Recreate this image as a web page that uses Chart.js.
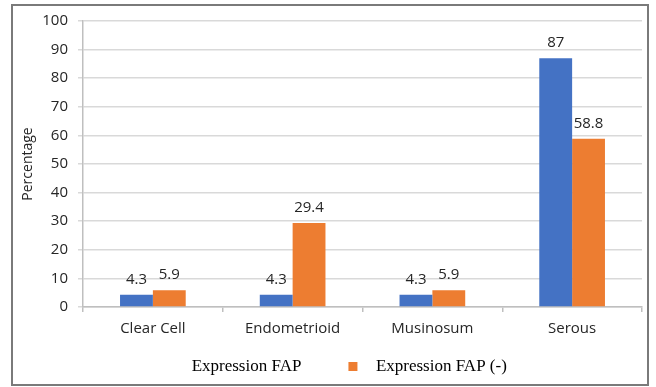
<!DOCTYPE html>
<html>
<head>
<meta charset="utf-8">
<script src="https://cdn.jsdelivr.net/npm/chart.js@4.4.0/dist/chart.umd.min.js"></script>
<style>
  html, body { margin: 0; padding: 0; background: #fff; }
  #wrap { position: relative; width: 656px; height: 387px; }
  #frame { position: absolute; left: 11px; top: 4px; width: 638px; height: 382px; border: 2px solid #7a7a7a; box-sizing: border-box; pointer-events: none; }
  canvas { display: block; }
</style>
</head>
<body>
<div id="wrap">
  <canvas id="chart" width="656" height="387"></canvas>
  <div id="frame"></div>
</div>
<script>
// Data
const categories = ['Clear Cell', 'Endometrioid', 'Musinosum', 'Serous'];
const fapPositive = [4.3, 4.3, 4.3, 87];
const fapNegative = [5.9, 29.4, 5.9, 58.8];
const seriesNames = ['Expression FAP', 'Expression FAP (-)'];
const yTicks = { min: 0, max: 100, step: 10 };

// Legend swatches: first item shows no box in the original, second an orange square.
// The canvas is wider than the square so the text sits further right of it.
function makeSwatch(color) {
    const c = document.createElement('canvas');
    c.width = 48;
    c.height = 9;
    const g = c.getContext('2d');
    if (color) {
        g.fillStyle = color;
        g.fillRect(29, 0, 9, 9);
    }
    return c;
}
const legendSwatches = [makeSwatch(null), makeSwatch('#ED7D31')];

// Value labels above each bar
const barLabels = {
    id: 'barLabels',
    afterDatasetsDraw(chart) {
        const ctx = chart.ctx;
        ctx.save();
        ctx.font = '15px "Open Sans"';
        ctx.fillStyle = '#262626';
        ctx.textAlign = 'center';
        ctx.textBaseline = 'alphabetic';
        chart.data.datasets.forEach((ds, i) => {
            chart.getDatasetMeta(i).data.forEach((bar, j) => {
                ctx.fillText(String(ds.data[j]), bar.x, bar.y - 11);
            });
        });
        ctx.restore();
    }
};

Chart.defaults.font.family = '"Open Sans", sans-serif';
Chart.defaults.color = '#404040';

const ctx = document.getElementById('chart').getContext('2d');
new Chart(ctx, {
    type: 'bar',
    data: {
        labels: categories,
        datasets: [{
            label: seriesNames[0],
            data: fapPositive,
            backgroundColor: '#4472C4',
            borderWidth: 0,
            categoryPercentage: 0.47,
            barPercentage: 1
        }, {
            label: seriesNames[1],
            data: fapNegative,
            backgroundColor: '#ED7D31',
            borderWidth: 0,
            categoryPercentage: 0.47,
            barPercentage: 1
        }]
    },
    options: {
        responsive: false,
        animation: false,
        layout: {
            padding: { left: 0, right: 14, top: 21, bottom: 2 }
        },
        scales: {
            x: {
                grid: {
                    drawOnChartArea: false,
                    drawTicks: true,
                    tickLength: 5,
                    color: '#bfbfbf',
                    lineWidth: 1.5
                },
                border: { color: '#bfbfbf', width: 1.5 },
                ticks: {
                    padding: 8,
                    font: { size: 15 },
                    color: '#262626'
                },
                afterFit(scale) { scale.height = 33; }
            },
            y: {
                min: yTicks.min,
                max: yTicks.max,
                grid: {
                    color: '#d9d9d9',
                    lineWidth: 1.5,
                    tickLength: 5
                },
                border: { color: '#bfbfbf', width: 1.5 },
                ticks: {
                    stepSize: yTicks.step,
                    padding: 10,
                    font: { size: 15 },
                    color: '#262626'
                },
                title: {
                    display: true,
                    text: 'Percentage',
                    font: { size: 14 },
                    color: '#262626',
                    padding: { top: 20, bottom: 0 }
                },
                afterFit(scale) { scale.width = 83; }
            }
        },
        plugins: {
            legend: {
                position: 'bottom',
                labels: {
                    usePointStyle: true,
                    pointStyleWidth: 48,
                    padding: 18,
                    color: '#000',
                    font: { family: '"Liberation Serif", "Times New Roman", serif', size: 17 },
                    generateLabels(chart) {
                        const items = Chart.defaults.plugins.legend.labels.generateLabels(chart);
                        items.forEach((item, i) => { item.pointStyle = legendSwatches[i]; });
                        return items;
                    }
                }
            },
            tooltip: { enabled: false }
        }
    },
    plugins: [barLabels]
});
</script>
</body>
</html>
